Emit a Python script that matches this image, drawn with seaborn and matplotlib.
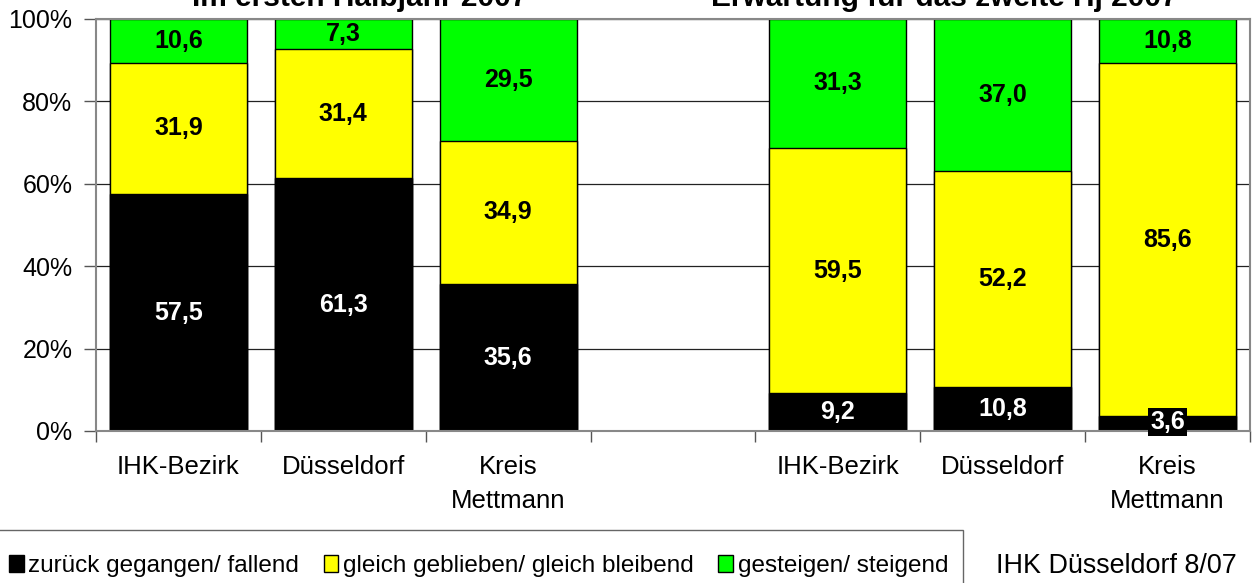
import matplotlib
matplotlib.use("Agg")
import matplotlib.pyplot as plt
import seaborn as sns
import pandas as pd
from matplotlib.patches import Rectangle, Patch

# ---- data ----
keys = ["h1_ihk", "h1_dus", "h1_me", "gap", "h2_ihk", "h2_dus", "h2_me"]
tick_labels = ["IHK-Bezirk", "Düsseldorf", "Kreis\nMettmann", "",
               "IHK-Bezirk", "Düsseldorf", "Kreis\nMettmann"]
bar_keys = ["h1_ihk", "h1_dus", "h1_me", "h2_ihk", "h2_dus", "h2_me"]
fallend = [57.5, 61.3, 35.6, 9.2, 10.8, 3.6]
gleich = [31.9, 31.4, 34.9, 59.5, 52.2, 85.6]
steigend = [10.6, 7.3, 29.5, 31.3, 37.0, 10.8]
series_names = ["zurück gegangen/ fallend", "gleich geblieben/ gleich bleibend",
                "gesteigen/ steigend"]
colors = ["#000000", "#FFFF00", "#00FF00"]
titles = ["Im ersten Halbjahr 2007", "Erwartung für das zweite Hj 2007"]
footer = "IHK Düsseldorf 8/07"

sns.set_theme(style="white")
plt.rcParams["font.family"] = ["Liberation Sans", "DejaVu Sans"]
plt.rcParams["text.color"] = "black"
plt.rcParams["xtick.labelcolor"] = "black"
plt.rcParams["ytick.labelcolor"] = "black"

df = pd.DataFrame({"key": bar_keys, "fallend": fallend, "gleich": gleich, "steigend": steigend})
df["c1"] = df["fallend"]
df["c2"] = df["fallend"] + df["gleich"]
df["c3"] = df["c2"] + df["steigend"]

fig = plt.figure(figsize=(12.55, 5.83), dpi=100)
ax = fig.add_axes([96 / 1255, 1 - 431 / 583, (1250 - 96) / 1255, (431 - 19) / 583])

for col, c in [("c3", colors[2]), ("c2", colors[1]), ("c1", colors[0])]:
    sns.barplot(data=df, x="key", y=col, order=keys, color=c, saturation=1,
                width=0.83, edgecolor="black", linewidth=1, errorbar=None, ax=ax)

ax.set_xlim(-0.5, 6.5)
ax.set_ylim(0, 100)
ax.set_xlabel("")
ax.set_ylabel("")
ax.set_axisbelow(True)
ax.yaxis.grid(True, color="#222222", lw=0.9)
for s in ax.spines.values():
    s.set_color("#888888")
    s.set_linewidth(1.5)

ax.set_yticks([0, 20, 40, 60, 80, 100])
ax.set_yticklabels([f"{v}%" for v in [0, 20, 40, 60, 80, 100]], fontsize=18)
ax.tick_params(axis="y", direction="out", length=9, width=1, color="#555555",
               labelcolor="black", pad=8, left=True)
ax.set_xticks(range(7))
ax.set_xticklabels(tick_labels, fontsize=18.5, linespacing=1.55)
ax.set_xticks([i - 0.5 for i in range(8)], minor=True)
ax.tick_params(axis="x", which="major", length=0, pad=17, labelcolor="black")
ax.tick_params(axis="x", which="minor", direction="out", length=8, width=1, color="#555555", bottom=True)

# value labels
pos_map = {k: keys.index(k) for k in bar_keys}
for i, k in enumerate(bar_keys):
    x = pos_map[k]
    segs = [(0, fallend[i], "white"), (fallend[i], gleich[i], "black"),
            (fallend[i] + gleich[i], steigend[i], "black")]
    for j, (b, h, tc) in enumerate(segs):
        y = b + h / 2
        lab = f"{h:.1f}".replace(".", ",")
        kw = {}
        if h < 5:
            y = b + h / 2 + 0.3
            kw["bbox"] = dict(facecolor="black", edgecolor="none", pad=1.5)
        ax.text(x, y, lab, ha="center", va="center", color=tc, fontsize=18,
                fontweight="bold", **kw)

# titles (partly cut at top edge, as in the reference)
fig.text(360 / 1255, 1 - 6 / 583, titles[0], ha="center", va="baseline",
         fontsize=21.5, fontweight="bold", color="black")
fig.text(944 / 1255, 1 - 6 / 583, titles[1], ha="center", va="baseline",
         fontsize=21.5, fontweight="bold", color="black")

# legend box
fig.patches.append(Rectangle((-0.01, -0.02), 963 / 1255 + 0.01, 0.02 + 1 - 530 / 583,
                             transform=fig.transFigure, facecolor="white",
                             edgecolor="#666666", lw=1))
handles = [Patch(facecolor=c, edgecolor="black", lw=1) for c in colors]
leg = fig.legend(handles, series_names, loc="center left",
                 bbox_to_anchor=(9 / 1255, 1 - 566 / 583), ncol=3, frameon=False,
                 handlelength=0.6, handleheight=0.65, handletextpad=0.2,
                 columnspacing=1.0, fontsize=17.5, borderpad=0, borderaxespad=0)
for t in leg.get_texts():
    t.set_color("black")

fig.text(996 / 1255, 1 - 566 / 583, footer, ha="left", va="center", fontsize=19.4,
         color="black")

fig.savefig("out.png", dpi=100)
